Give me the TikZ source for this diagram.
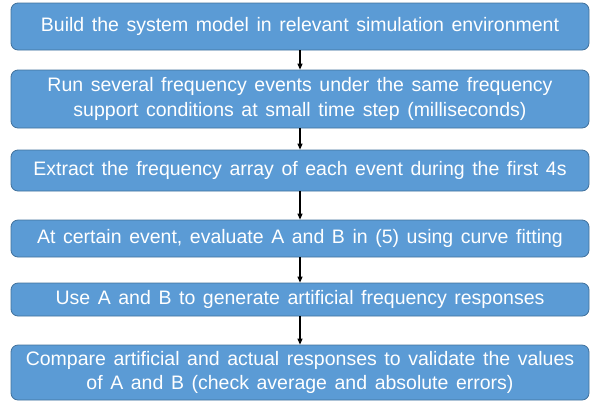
\documentclass[tikz,border=0pt]{standalone}
\usepackage{fontspec}
\setmainfont[WordSpace=1.4]{Liberation Sans}
\usetikzlibrary{arrows.meta}
\definecolor{boxfill}{HTML}{5B9BD5}
\definecolor{boxline}{HTML}{41719C}
\tikzset{
  stepbox/.style={draw=boxline, line width=0.8pt, fill=boxfill, rounded corners=7pt,
    text=white, align=center, font=\fontsize{19.5}{24.5}\selectfont,
    minimum width=578pt, inner sep=0pt},
  flow/.style={-{Triangle[length=6pt,width=5pt]}, line width=1.1pt, black}
}
\begin{document}
\begin{tikzpicture}[x=1pt,y=1pt]
  \useasboundingbox (0,0) rectangle (591,-405);
  \node[stepbox, minimum height=47pt] (b1) at (300,-26.5)
    {Build the system model in relevant simulation environment};
  \node[stepbox, minimum height=58pt] (b2) at (300,-99)
    {Run several frequency events under the same frequency\\support conditions at small time step (milliseconds)};
  \node[stepbox, minimum height=41pt] (b3) at (300,-170.5)
    {Extract the frequency array of each event during the first 4s};
  \node[stepbox, minimum height=37pt] (b4) at (300,-238.5)
    {At certain event, evaluate A and B in (5) using curve fitting};
  \node[stepbox, minimum height=33pt] (b5) at (300,-299.5)
    {Use A and B to generate artificial frequency responses};
  \node[stepbox, minimum height=55pt] (b6) at (300,-372.5)
    {Compare artificial and actual responses to validate the values\\of A and B (check average and absolute errors)};
  \draw[flow] (b1) -- (b2);
  \draw[flow] (b2) -- (b3);
  \draw[flow] (b3) -- (b4);
  \draw[flow] (b4) -- (b5);
  \draw[flow] (b5) -- (b6);
\end{tikzpicture}
\end{document}
